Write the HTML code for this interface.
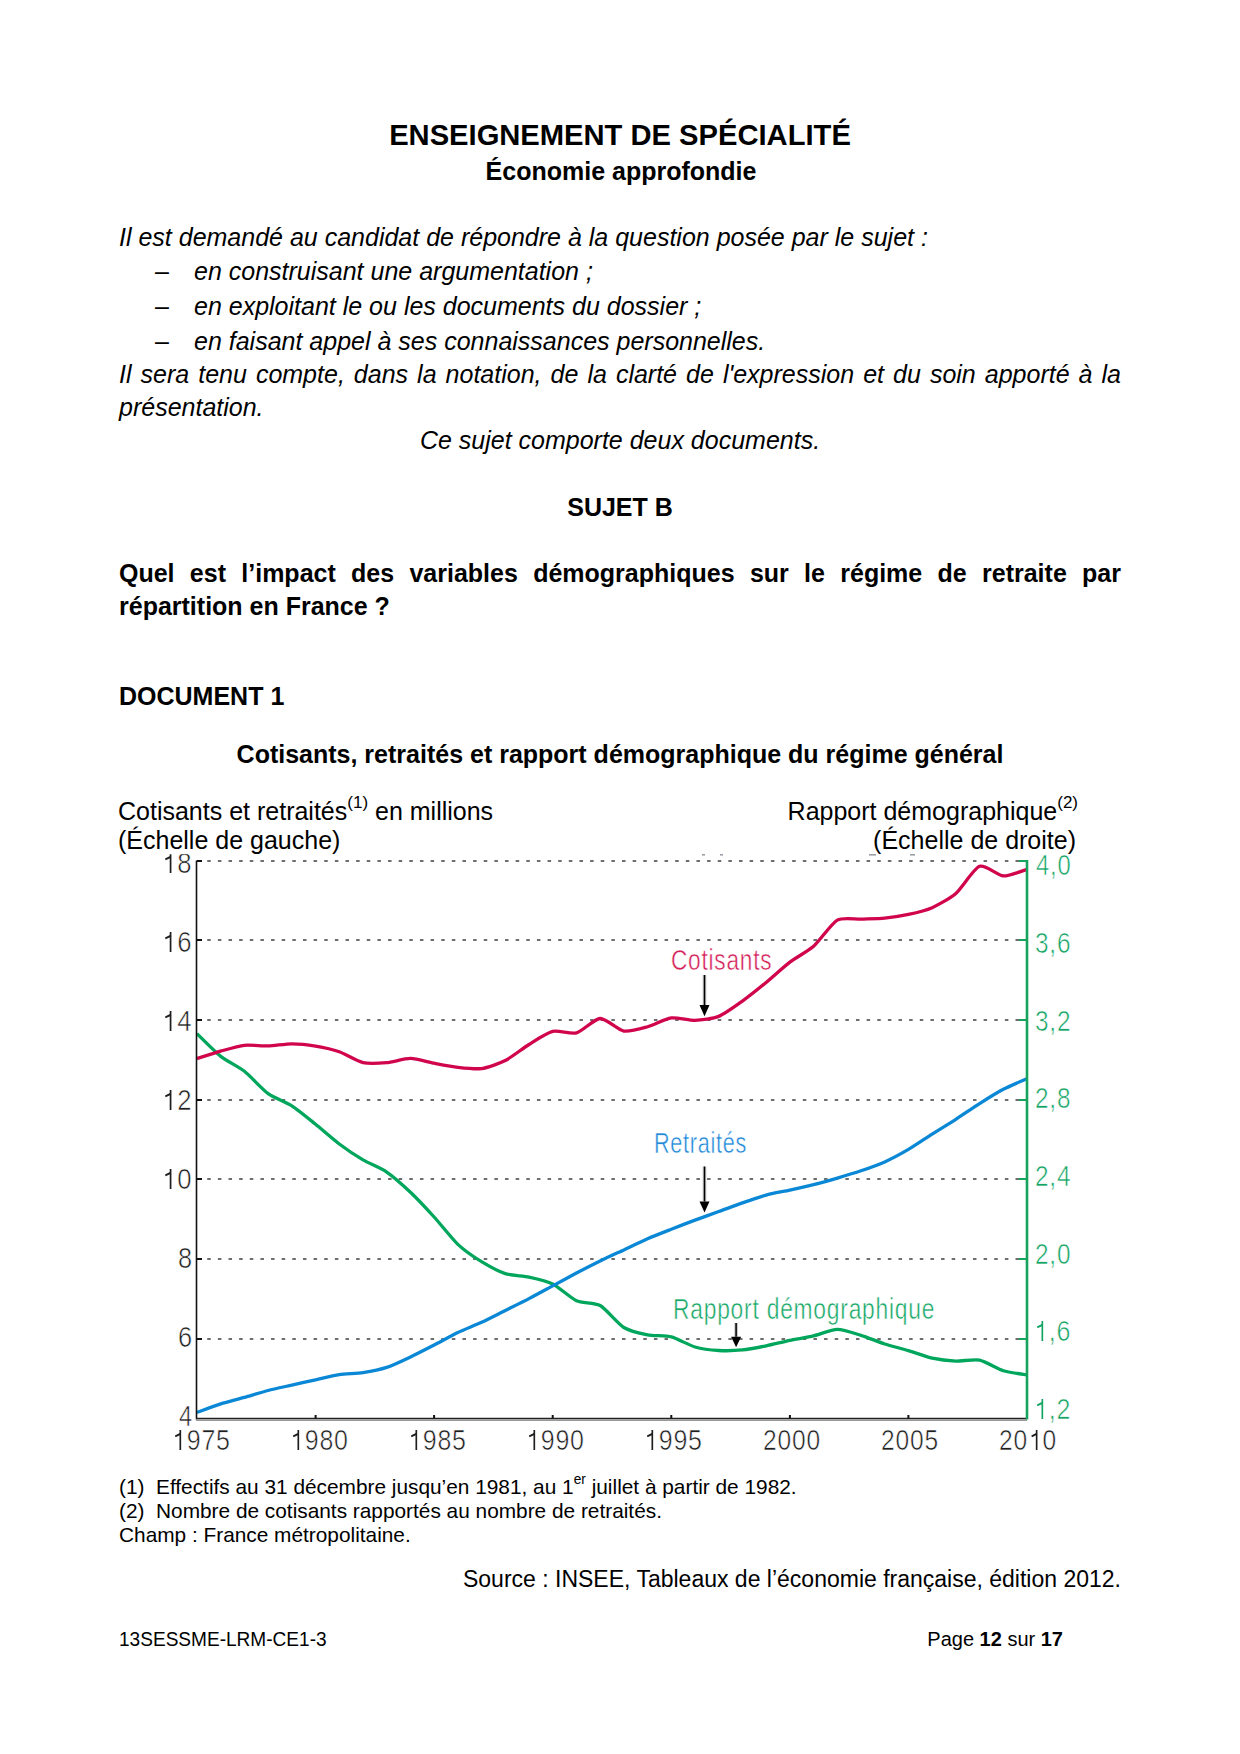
<!DOCTYPE html>
<html><head><meta charset="utf-8"><style>
html,body{margin:0;padding:0;background:#fff;}
body{width:1240px;height:1754px;position:relative;overflow:hidden;font-family:"Liberation Sans",sans-serif;color:#000;}
.t{position:absolute;white-space:nowrap;}
.b{font-weight:bold;}
.i{font-style:italic;}
.c{font-weight:normal;}
sup{font-size:68%;vertical-align:0;position:relative;top:-0.72em;line-height:0;}
.one{position:relative;color:transparent !important;-webkit-text-stroke:0 !important;}
.one::before{content:'';position:absolute;left:9.4px;top:6.75px;width:2px;height:20px;background:var(--c);}
.one::after{content:'';position:absolute;left:3.4px;top:9.6px;width:6.6px;height:1.6px;background:var(--c);transform:rotate(-22deg);transform-origin:100% 0;}
sup.s2{font-size:66%;top:-0.78em;}
</style></head><body>
<div class="t b" style="top:120.81px;font-size:29.17px;line-height:29.17px;left:20px;width:1200px;text-align:center;">ENSEIGNEMENT DE SPÉCIALITÉ</div>
<div class="t b" style="top:158.84px;font-size:25px;line-height:25px;left:21px;width:1200px;text-align:center;">Économie approfondie</div>
<div class="t i" style="top:224.84px;font-size:25px;line-height:25px;left:119px;">Il est demandé au candidat de répondre à la question posée par le sujet :</div>
<div class="t i" style="top:258.84px;font-size:25px;line-height:25px;left:155px;font-style:normal;">–</div>
<div class="t i" style="top:258.84px;font-size:25px;line-height:25px;left:194px;">en construisant une argumentation ;</div>
<div class="t i" style="top:293.84px;font-size:25px;line-height:25px;left:155px;font-style:normal;">–</div>
<div class="t i" style="top:293.84px;font-size:25px;line-height:25px;left:194px;">en exploitant le ou les documents du dossier ;</div>
<div class="t i" style="top:328.84px;font-size:25px;line-height:25px;left:155px;font-style:normal;">–</div>
<div class="t i" style="top:328.84px;font-size:25px;line-height:25px;left:194px;">en faisant appel à ses connaissances personnelles.</div>
<div class="t i" style="top:361.84px;font-size:25px;line-height:25px;left:119px;width:1002px;text-align:justify;text-align-last:justify;">Il sera tenu compte, dans la notation, de la clarté de l'expression et du soin apporté à la</div>
<div class="t i" style="top:394.84px;font-size:25px;line-height:25px;left:119px;">présentation.</div>
<div class="t i" style="top:427.84px;font-size:25px;line-height:25px;left:20px;width:1200px;text-align:center;">Ce sujet comporte deux documents.</div>
<div class="t b" style="top:494.84px;font-size:25px;line-height:25px;left:20px;width:1200px;text-align:center;">SUJET B</div>
<div class="t b" style="top:560.84px;font-size:25px;line-height:25px;left:119px;width:1002px;text-align:justify;text-align-last:justify;">Quel est l’impact des variables démographiques sur le régime de retraite par</div>
<div class="t b" style="top:593.84px;font-size:25px;line-height:25px;left:119px;">répartition en France ?</div>
<div class="t b" style="top:683.84px;font-size:25px;line-height:25px;left:119px;">DOCUMENT 1</div>
<div class="t b" style="top:741.84px;font-size:25px;line-height:25px;left:20px;width:1200px;text-align:center;">Cotisants, retraités et rapport démographique du régime général</div>
<div class="t " style="top:798.84px;font-size:25px;line-height:25px;left:118px;">Cotisants et retraités<sup>(1)</sup> en millions</div>
<div class="t " style="top:827.84px;font-size:25px;line-height:25px;left:118px;">(Échelle de gauche)</div>
<div class="t " style="top:798.84px;font-size:25px;line-height:25px;left:178px;width:900px;text-align:right;">Rapport démographique<sup>(2)</sup></div>
<div class="t " style="top:827.84px;font-size:25px;line-height:25px;left:176px;width:900px;text-align:right;">(Échelle de droite)</div>
<div class="t " style="top:1477.37px;font-size:20.83px;line-height:20.83px;left:119px;">(1)&nbsp; Effectifs au 31 décembre jusqu’en 1981, au 1<sup class="s2">er</sup> juillet à partir de 1982.</div>
<div class="t " style="top:1501.37px;font-size:20.83px;line-height:20.83px;left:119px;">(2)&nbsp; Nombre de cotisants rapportés au nombre de retraités.</div>
<div class="t " style="top:1525.37px;font-size:20.83px;line-height:20.83px;left:119px;">Champ : France métropolitaine.</div>
<div class="t " style="top:1567.53px;font-size:23px;line-height:23px;left:221px;width:900px;text-align:right;">Source : INSEE, Tableaux de l’économie française, édition 2012.</div>
<div class="t f" style="top:1629.07px;font-size:20px;line-height:20px;left:119px;transform:scaleX(0.953);transform-origin:0 0;">13SESSME-LRM-CE1-3</div>
<div class="t f" style="top:1629.07px;font-size:20px;line-height:20px;left:163px;width:900px;text-align:right;">Page <b>12</b> sur <b>17</b></div>
<svg width="1240" height="1754" style="position:absolute;left:0;top:0">
<line x1="207.25" y1="1339.0" x2="1019.5" y2="1339.0" stroke="#6e6e6e" stroke-width="2" stroke-dasharray="3.5 7.135"/>
<line x1="197.0" y1="1339.0" x2="202.0" y2="1339.0" stroke="#111" stroke-width="2"/>
<line x1="1019.0" y1="1339.0" x2="1027.0" y2="1339.0" stroke="#16a35c" stroke-width="2"/>
<line x1="207.25" y1="1259.0" x2="1019.5" y2="1259.0" stroke="#6e6e6e" stroke-width="2" stroke-dasharray="3.5 7.135"/>
<line x1="197.0" y1="1259.0" x2="202.0" y2="1259.0" stroke="#111" stroke-width="2"/>
<line x1="1019.0" y1="1259.0" x2="1027.0" y2="1259.0" stroke="#16a35c" stroke-width="2"/>
<line x1="207.25" y1="1179.0" x2="1019.5" y2="1179.0" stroke="#6e6e6e" stroke-width="2" stroke-dasharray="3.5 7.135"/>
<line x1="197.0" y1="1179.0" x2="202.0" y2="1179.0" stroke="#111" stroke-width="2"/>
<line x1="1019.0" y1="1179.0" x2="1027.0" y2="1179.0" stroke="#16a35c" stroke-width="2"/>
<line x1="207.25" y1="1100.0" x2="1019.5" y2="1100.0" stroke="#6e6e6e" stroke-width="2" stroke-dasharray="3.5 7.135"/>
<line x1="197.0" y1="1100.0" x2="202.0" y2="1100.0" stroke="#111" stroke-width="2"/>
<line x1="1019.0" y1="1100.0" x2="1027.0" y2="1100.0" stroke="#16a35c" stroke-width="2"/>
<line x1="207.25" y1="1020.0" x2="1019.5" y2="1020.0" stroke="#6e6e6e" stroke-width="2" stroke-dasharray="3.5 7.135"/>
<line x1="197.0" y1="1020.0" x2="202.0" y2="1020.0" stroke="#111" stroke-width="2"/>
<line x1="1019.0" y1="1020.0" x2="1027.0" y2="1020.0" stroke="#16a35c" stroke-width="2"/>
<line x1="207.25" y1="940.0" x2="1019.5" y2="940.0" stroke="#6e6e6e" stroke-width="2" stroke-dasharray="3.5 7.135"/>
<line x1="197.0" y1="940.0" x2="202.0" y2="940.0" stroke="#111" stroke-width="2"/>
<line x1="1019.0" y1="940.0" x2="1027.0" y2="940.0" stroke="#16a35c" stroke-width="2"/>
<line x1="207.25" y1="861.0" x2="1019.5" y2="861.0" stroke="#6e6e6e" stroke-width="2" stroke-dasharray="3.5 7.135"/>
<line x1="197.0" y1="861.0" x2="202.0" y2="861.0" stroke="#111" stroke-width="2"/>
<line x1="1019.0" y1="861.0" x2="1027.0" y2="861.0" stroke="#16a35c" stroke-width="2"/>
<path d="M197.00,1033.68 C199.77,1036.33 215.18,1051.99 220.71,1056.38 C226.25,1060.77 238.90,1066.97 244.43,1071.32 C249.96,1075.66 262.61,1089.60 268.14,1093.63 C273.68,1097.66 286.32,1102.29 291.86,1105.87 C297.39,1109.44 310.04,1119.82 315.57,1124.26 C321.10,1128.70 333.75,1139.81 339.29,1143.96 C344.82,1148.12 357.47,1156.61 363.00,1159.89 C368.53,1163.16 381.18,1168.28 386.71,1172.06 C392.25,1175.83 404.90,1187.00 410.43,1192.24 C415.96,1197.48 428.61,1210.91 434.14,1216.99 C439.68,1223.07 452.32,1239.13 457.86,1244.34 C463.39,1249.56 476.04,1258.28 481.57,1261.69 C487.10,1265.10 499.75,1271.80 505.29,1273.59 C510.82,1275.39 523.47,1275.87 529.00,1277.07 C534.53,1278.27 547.18,1281.15 552.71,1283.91 C558.25,1286.67 570.90,1298.21 576.43,1300.73 C581.96,1303.25 594.61,1302.40 600.14,1305.53 C605.68,1308.65 618.32,1324.08 623.86,1327.50 C629.39,1330.92 642.04,1333.74 647.57,1334.84 C653.10,1335.94 665.75,1335.50 671.29,1336.92 C676.82,1338.34 689.47,1345.40 695.00,1346.98 C700.53,1348.56 713.18,1350.16 718.71,1350.50 C724.25,1350.84 736.90,1350.48 742.43,1349.93 C747.96,1349.39 760.61,1346.92 766.14,1345.81 C771.68,1344.69 784.32,1341.52 789.86,1340.36 C795.39,1339.21 808.04,1337.21 813.57,1335.92 C819.10,1334.64 831.75,1329.44 837.29,1329.37 C842.82,1329.30 855.47,1333.61 861.00,1335.32 C866.53,1337.02 879.18,1342.20 884.71,1343.98 C890.25,1345.76 902.90,1348.91 908.43,1350.58 C913.96,1352.24 926.61,1357.00 932.14,1358.23 C937.68,1359.45 950.32,1360.88 955.86,1361.10 C961.39,1361.32 974.04,1358.98 979.57,1360.11 C985.10,1361.23 997.75,1368.98 1003.29,1370.72 C1008.82,1372.45 1024.23,1374.50 1027.00,1375.00" fill="none" stroke="#00a65c" stroke-width="3.3" stroke-linejoin="round"/>
<path d="M197.00,1412.45 C199.77,1411.45 215.18,1405.69 220.71,1403.94 C226.25,1402.19 238.90,1398.97 244.43,1397.40 C249.96,1395.83 262.61,1391.91 268.14,1390.48 C273.68,1389.04 286.32,1386.37 291.86,1385.12 C297.39,1383.87 310.04,1380.99 315.57,1379.77 C321.10,1378.55 333.75,1375.53 339.29,1374.69 C344.82,1373.86 357.47,1373.45 363.00,1372.60 C368.53,1371.75 381.18,1369.27 386.71,1367.44 C392.25,1365.62 404.90,1359.60 410.43,1356.99 C415.96,1354.38 428.61,1347.93 434.14,1345.07 C439.68,1342.22 452.32,1335.16 457.86,1332.51 C463.39,1329.86 476.04,1324.89 481.57,1322.32 C487.10,1319.75 499.75,1313.27 505.29,1310.51 C510.82,1307.74 523.47,1301.48 529.00,1298.60 C534.53,1295.73 547.18,1288.84 552.71,1285.87 C558.25,1282.89 570.90,1275.97 576.43,1273.07 C581.96,1270.17 594.61,1263.69 600.14,1260.99 C605.68,1258.29 618.32,1252.49 623.86,1249.90 C629.39,1247.30 642.04,1241.17 647.57,1238.77 C653.10,1236.36 665.75,1231.44 671.29,1229.26 C676.82,1227.08 689.47,1222.17 695.00,1220.10 C700.53,1218.04 713.18,1213.59 718.71,1211.57 C724.25,1209.56 736.90,1204.78 742.43,1202.85 C747.96,1200.92 760.61,1196.54 766.14,1195.05 C771.68,1193.56 784.32,1191.28 789.86,1190.06 C795.39,1188.84 808.04,1186.00 813.57,1184.60 C819.10,1183.20 831.75,1179.68 837.29,1178.07 C842.82,1176.46 855.47,1172.68 861.00,1170.79 C866.53,1168.91 879.18,1164.43 884.71,1161.94 C890.25,1159.45 902.90,1152.69 908.43,1149.44 C913.96,1146.19 926.61,1137.61 932.14,1134.09 C937.68,1130.57 950.32,1122.85 955.86,1119.30 C961.39,1115.74 974.04,1107.10 979.57,1103.60 C985.10,1100.10 997.75,1092.21 1003.29,1089.31 C1008.82,1086.40 1024.23,1079.94 1027.00,1078.70" fill="none" stroke="#0a88d6" stroke-width="3.3" stroke-linejoin="round"/>
<path d="M197.00,1058.58 C199.77,1057.71 215.18,1052.69 220.71,1051.14 C226.25,1049.59 238.90,1045.89 244.43,1045.29 C249.96,1044.68 262.61,1046.11 268.14,1045.94 C273.68,1045.76 286.32,1043.79 291.86,1043.80 C297.39,1043.82 310.04,1045.12 315.57,1046.04 C321.10,1046.96 333.75,1049.75 339.29,1051.69 C344.82,1053.62 357.47,1061.33 363.00,1062.62 C368.53,1063.90 381.18,1063.17 386.71,1062.69 C392.25,1062.20 404.90,1058.38 410.43,1058.45 C415.96,1058.51 428.61,1062.20 434.14,1063.23 C439.68,1064.26 452.32,1066.66 457.86,1067.28 C463.39,1067.90 476.04,1069.33 481.57,1068.55 C487.10,1067.76 499.75,1063.37 505.29,1060.57 C510.82,1057.76 523.47,1047.89 529.00,1044.49 C534.53,1041.09 547.18,1032.77 552.71,1031.42 C558.25,1030.07 570.90,1034.42 576.43,1032.91 C581.96,1031.40 594.61,1018.70 600.14,1018.48 C605.68,1018.26 618.32,1030.07 623.86,1031.03 C629.39,1031.99 642.04,1028.25 647.57,1026.72 C653.10,1025.19 665.75,1018.65 671.29,1017.91 C676.82,1017.16 689.47,1020.50 695.00,1020.32 C700.53,1020.14 713.18,1018.64 718.71,1016.39 C724.25,1014.15 736.90,1005.04 742.43,1001.08 C747.96,997.12 760.61,987.00 766.14,982.46 C771.68,977.92 784.32,966.38 789.86,962.16 C795.39,957.94 808.04,951.19 813.57,946.29 C819.10,941.39 831.75,923.34 837.29,920.17 C842.82,917.00 855.47,919.38 861.00,919.14 C866.53,918.90 879.18,918.65 884.71,918.10 C890.25,917.56 902.90,915.68 908.43,914.46 C913.96,913.24 926.61,910.10 932.14,907.64 C937.68,905.19 950.32,898.26 955.86,893.44 C961.39,888.61 974.04,868.34 979.57,866.30 C985.10,864.25 997.75,875.55 1003.29,875.90 C1008.82,876.25 1024.23,870.07 1027.00,869.30" fill="none" stroke="#d0054c" stroke-width="3.3" stroke-linejoin="round"/>
<line x1="196.5" y1="860.5" x2="196.5" y2="1419.5" stroke="#111" stroke-width="1.6"/>
<line x1="196.0" y1="1418.5" x2="1027.0" y2="1418.5" stroke="#222" stroke-width="1.6"/>
<line x1="196.0" y1="1420.1" x2="1027.0" y2="1420.1" stroke="#999" stroke-width="1.6"/>
<line x1="1027.0" y1="860.0" x2="1027.0" y2="1419.5" stroke="#16a35c" stroke-width="2.6"/>
<line x1="315.6" y1="1415.0" x2="315.6" y2="1418.5" stroke="#111" stroke-width="2"/>
<line x1="434.1" y1="1415.0" x2="434.1" y2="1418.5" stroke="#111" stroke-width="2"/>
<line x1="552.7" y1="1415.0" x2="552.7" y2="1418.5" stroke="#111" stroke-width="2"/>
<line x1="671.3" y1="1415.0" x2="671.3" y2="1418.5" stroke="#111" stroke-width="2"/>
<line x1="789.9" y1="1415.0" x2="789.9" y2="1418.5" stroke="#111" stroke-width="2"/>
<line x1="908.4" y1="1415.0" x2="908.4" y2="1418.5" stroke="#111" stroke-width="2"/>
<line x1="704.5" y1="975" x2="704.5" y2="1005" stroke="#c4c4c4" stroke-width="3.6"/><line x1="704.5" y1="975" x2="704.5" y2="1005" stroke="#000" stroke-width="1.5"/><polygon points="699.5,1005 709.5,1005 704.5,1016.3" fill="#000"/>
<line x1="704.5" y1="1166.5" x2="704.5" y2="1201.5" stroke="#c4c4c4" stroke-width="3.6"/><line x1="704.5" y1="1166.5" x2="704.5" y2="1201.5" stroke="#000" stroke-width="1.5"/><polygon points="699.5,1201.5 709.5,1201.5 704.5,1212.5" fill="#000"/>
<line x1="736.1" y1="1323" x2="736.1" y2="1336.8" stroke="#c4c4c4" stroke-width="3.6"/><line x1="736.1" y1="1323" x2="736.1" y2="1336.8" stroke="#000" stroke-width="1.5"/><polygon points="731.1,1336.8 741.1,1336.8 736.1,1347.3" fill="#000"/>
<rect x="702" y="854" width="3" height="1.6" fill="#9aa0a6"/>
<rect x="720" y="854" width="3" height="1.6" fill="#9aa0a6"/>
<rect x="869" y="854" width="7" height="1.6" fill="#9aa0a6"/>
<rect x="910" y="854" width="5" height="1.6" fill="#9aa0a6"/>
</svg>
<div class="t c" style="left:162.03px;top:848.36px;font-size:30px;line-height:30px;letter-spacing:1px;-webkit-text-stroke:0.6px #fff;color:#1e1e1e;--c:#1e1e1e;transform:scaleX(0.8567);transform-origin:0 0;clip-path:inset(6px 0 0 0);"><span class="one">1</span>8</div>
<div class="t c" style="left:162.03px;top:927.34px;font-size:30px;line-height:30px;letter-spacing:1px;-webkit-text-stroke:0.6px #fff;color:#1e1e1e;--c:#1e1e1e;transform:scaleX(0.8567);transform-origin:0 0;"><span class="one">1</span>6</div>
<div class="t c" style="left:162.03px;top:1006.32px;font-size:30px;line-height:30px;letter-spacing:1px;-webkit-text-stroke:0.6px #fff;color:#1e1e1e;--c:#1e1e1e;transform:scaleX(0.8567);transform-origin:0 0;"><span class="one">1</span>4</div>
<div class="t c" style="left:162.03px;top:1085.30px;font-size:30px;line-height:30px;letter-spacing:1px;-webkit-text-stroke:0.6px #fff;color:#1e1e1e;--c:#1e1e1e;transform:scaleX(0.8567);transform-origin:0 0;"><span class="one">1</span>2</div>
<div class="t c" style="left:162.03px;top:1164.28px;font-size:30px;line-height:30px;letter-spacing:1px;-webkit-text-stroke:0.6px #fff;color:#1e1e1e;--c:#1e1e1e;transform:scaleX(0.8567);transform-origin:0 0;"><span class="one">1</span>0</div>
<div class="t c" style="left:177.61px;top:1243.26px;font-size:30px;line-height:30px;letter-spacing:1px;-webkit-text-stroke:0.6px #fff;color:#1e1e1e;--c:#1e1e1e;transform:scaleX(0.8462);transform-origin:0 0;">8</div>
<div class="t c" style="left:177.61px;top:1322.24px;font-size:30px;line-height:30px;letter-spacing:1px;-webkit-text-stroke:0.6px #fff;color:#1e1e1e;--c:#1e1e1e;transform:scaleX(0.8462);transform-origin:0 0;">6</div>
<div class="t c" style="left:178.51px;top:1401.22px;font-size:30px;line-height:30px;letter-spacing:1px;-webkit-text-stroke:0.6px #fff;color:#1e1e1e;--c:#1e1e1e;transform:scaleX(0.7857);transform-origin:0 0;">4</div>
<div class="t c" style="left:1036.11px;top:850.15px;font-size:30px;line-height:30px;letter-spacing:1px;-webkit-text-stroke:0.6px #fff;color:#13a362;--c:#13a362;transform:scaleX(0.7927);transform-origin:0 0;">4,0</div>
<div class="t c" style="left:1035.28px;top:927.86px;font-size:30px;line-height:30px;letter-spacing:1px;-webkit-text-stroke:0.6px #fff;color:#13a362;--c:#13a362;transform:scaleX(0.8125);transform-origin:0 0;">3,6</div>
<div class="t c" style="left:1035.28px;top:1005.57px;font-size:30px;line-height:30px;letter-spacing:1px;-webkit-text-stroke:0.6px #fff;color:#13a362;--c:#13a362;transform:scaleX(0.8125);transform-origin:0 0;">3,2</div>
<div class="t c" style="left:1035.28px;top:1083.28px;font-size:30px;line-height:30px;letter-spacing:1px;-webkit-text-stroke:0.6px #fff;color:#13a362;--c:#13a362;transform:scaleX(0.8125);transform-origin:0 0;">2,8</div>
<div class="t c" style="left:1035.28px;top:1160.99px;font-size:30px;line-height:30px;letter-spacing:1px;-webkit-text-stroke:0.6px #fff;color:#13a362;--c:#13a362;transform:scaleX(0.8125);transform-origin:0 0;">2,4</div>
<div class="t c" style="left:1035.28px;top:1238.70px;font-size:30px;line-height:30px;letter-spacing:1px;-webkit-text-stroke:0.6px #fff;color:#13a362;--c:#13a362;transform:scaleX(0.8125);transform-origin:0 0;">2,0</div>
<div class="t c" style="left:1034.40px;top:1316.41px;font-size:30px;line-height:30px;letter-spacing:1px;-webkit-text-stroke:0.6px #fff;color:#13a362;--c:#13a362;transform:scaleX(0.8333);transform-origin:0 0;"><span class="one">1</span>,6</div>
<div class="t c" style="left:1034.40px;top:1394.12px;font-size:30px;line-height:30px;letter-spacing:1px;-webkit-text-stroke:0.6px #fff;color:#13a362;--c:#13a362;transform:scaleX(0.8333);transform-origin:0 0;"><span class="one">1</span>,2</div>
<div class="t c" style="left:171.51px;top:1425.00px;font-size:30px;line-height:30px;letter-spacing:1px;-webkit-text-stroke:0.6px #fff;color:#1e1e1e;--c:#1e1e1e;transform:scaleX(0.8308);transform-origin:0 0;"><span class="one">1</span>975</div>
<div class="t c" style="left:289.61px;top:1425.00px;font-size:30px;line-height:30px;letter-spacing:1px;-webkit-text-stroke:0.6px #fff;color:#1e1e1e;--c:#1e1e1e;transform:scaleX(0.8308);transform-origin:0 0;"><span class="one">1</span>980</div>
<div class="t c" style="left:407.71px;top:1425.00px;font-size:30px;line-height:30px;letter-spacing:1px;-webkit-text-stroke:0.6px #fff;color:#1e1e1e;--c:#1e1e1e;transform:scaleX(0.8308);transform-origin:0 0;"><span class="one">1</span>985</div>
<div class="t c" style="left:525.81px;top:1425.00px;font-size:30px;line-height:30px;letter-spacing:1px;-webkit-text-stroke:0.6px #fff;color:#1e1e1e;--c:#1e1e1e;transform:scaleX(0.8308);transform-origin:0 0;"><span class="one">1</span>990</div>
<div class="t c" style="left:643.91px;top:1425.00px;font-size:30px;line-height:30px;letter-spacing:1px;-webkit-text-stroke:0.6px #fff;color:#1e1e1e;--c:#1e1e1e;transform:scaleX(0.8308);transform-origin:0 0;"><span class="one">1</span>995</div>
<div class="t c" style="left:762.86px;top:1425.00px;font-size:30px;line-height:30px;letter-spacing:1px;-webkit-text-stroke:0.6px #fff;color:#1e1e1e;--c:#1e1e1e;transform:scaleX(0.8182);transform-origin:0 0;">2000</div>
<div class="t c" style="left:880.96px;top:1425.00px;font-size:30px;line-height:30px;letter-spacing:1px;-webkit-text-stroke:0.6px #fff;color:#1e1e1e;--c:#1e1e1e;transform:scaleX(0.8182);transform-origin:0 0;">2005</div>
<div class="t c" style="left:999.06px;top:1425.00px;font-size:30px;line-height:30px;letter-spacing:1px;-webkit-text-stroke:0.6px #fff;color:#1e1e1e;--c:#1e1e1e;transform:scaleX(0.8182);transform-origin:0 0;">20<span class="one">1</span>0</div>
<div class="t c" style="left:671.49px;top:945.00px;font-size:30px;line-height:30px;letter-spacing:1px;-webkit-text-stroke:0.5px #fff;color:#d41e58;transform:scaleX(0.7554);transform-origin:0 0;">Cotisants</div>
<div class="t c" style="left:654.33px;top:1127.50px;font-size:30px;line-height:30px;letter-spacing:1px;-webkit-text-stroke:0.5px #fff;color:#2088d8;transform:scaleX(0.7218);transform-origin:0 0;">Retraités</div>
<div class="t c" style="left:672.64px;top:1295.00px;font-size:29px;line-height:29px;letter-spacing:1px;-webkit-text-stroke:0.5px #fff;color:#17a866;transform:scaleX(0.7857);transform-origin:0 0;">Rapport démographique</div>
</body></html>
